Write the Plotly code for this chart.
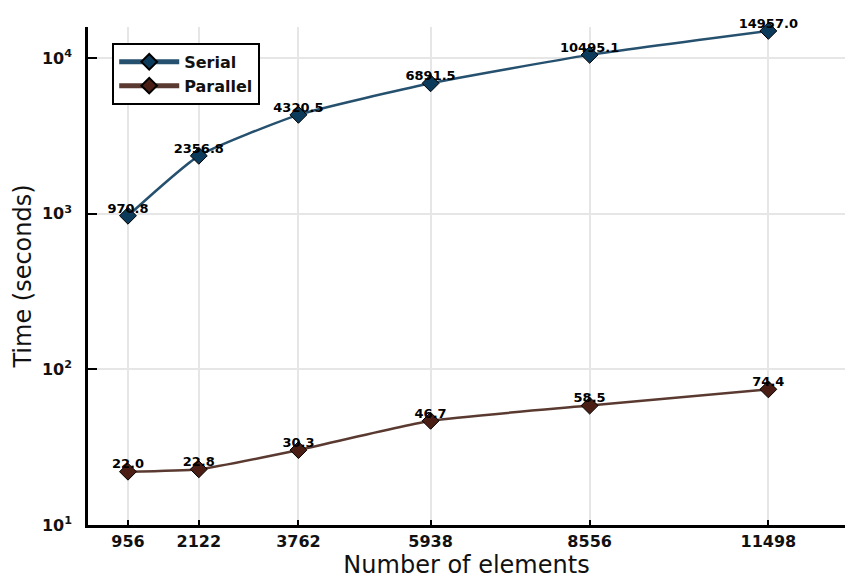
import plotly.graph_objects as go

elements = [956, 2122, 3762, 5938, 8556, 11498]
serial = [970.8, 2356.8, 4320.5, 6891.5, 10495.1, 14957.0]
parallel = [22.0, 22.8, 30.3, 46.7, 58.5, 74.4]
ytick_vals = [10, 100, 1000, 10000]
ytick_text = ["10<sup>1</sup>", "10<sup>2</sup>", "10<sup>3</sup>", "10<sup>4</sup>"]

FONT = "DejaVu Sans"
serial_col = "#0c3a5a"
parallel_col = "#4a1e14"

fig = go.Figure()
for name, vals, col, lcol in [("Serial", serial, serial_col, "#25506e"),
                              ("Parallel", parallel, parallel_col, "#5a3a30")]:
    fig.add_trace(go.Scatter(
        x=elements, y=vals, name=name, mode="lines+markers",
        line=dict(color=lcol, width=2.5, shape="spline", smoothing=0.5),
        marker=dict(symbol="diamond", size=13, color=col,
                    line=dict(color="black", width=1)),
        cliponaxis=False,
    ))
for vals in [serial, parallel]:
    fig.add_trace(go.Scatter(
        x=elements, y=vals, mode="text", showlegend=False,
        text=[f"{v:.1f}" for v in vals], textposition="top center",
        textfont=dict(family=FONT, size=13, color="black", weight="bold"),
        hoverinfo="skip", cliponaxis=False,
    ))

fig.update_layout(
    width=847, height=580,
    margin=dict(l=88, r=2, t=27, b=55),
    paper_bgcolor="white", plot_bgcolor="white",
    font=dict(family=FONT, color="#111"),
    legend=dict(x=0.032, y=0.968, xanchor="left", yanchor="top",
                bordercolor="black", borderwidth=2, bgcolor="white",
                font=dict(family=FONT, size=16, weight="bold"),
                itemwidth=60,
                tracegroupgap=0, itemsizing="constant"),
    xaxis=dict(
        range=[298, 12760], tickmode="array", tickvals=elements,
        ticktext=[str(e) for e in elements],
        showgrid=True, gridcolor="#e6e6e6", gridwidth=1.5,
        showline=True, linecolor="black", linewidth=2.5,
        ticks="inside", ticklen=5, tickwidth=2, tickcolor="black",
        tickfont=dict(family=FONT, size=16, weight="bold"),
        title=dict(text="Number of elements", font=dict(family=FONT, size=24), standoff=3),
        zeroline=False,
    ),
    yaxis=dict(
        type="log", range=[1, 4.2], tickmode="array", tickvals=ytick_vals,
        ticktext=ytick_text,
        showgrid=True, gridcolor="#e6e6e6", gridwidth=1.5,
        showline=True, linecolor="black", linewidth=2.5,
        ticks="inside", ticklen=9, tickwidth=2, tickcolor="black",
        ticklabelstandoff=10,
        tickfont=dict(family=FONT, size=16, weight="bold"),
        title=dict(text="Time (seconds)", font=dict(family=FONT, size=24), standoff=4),
        zeroline=False,
    ),
)
fig.write_html("out.html")
